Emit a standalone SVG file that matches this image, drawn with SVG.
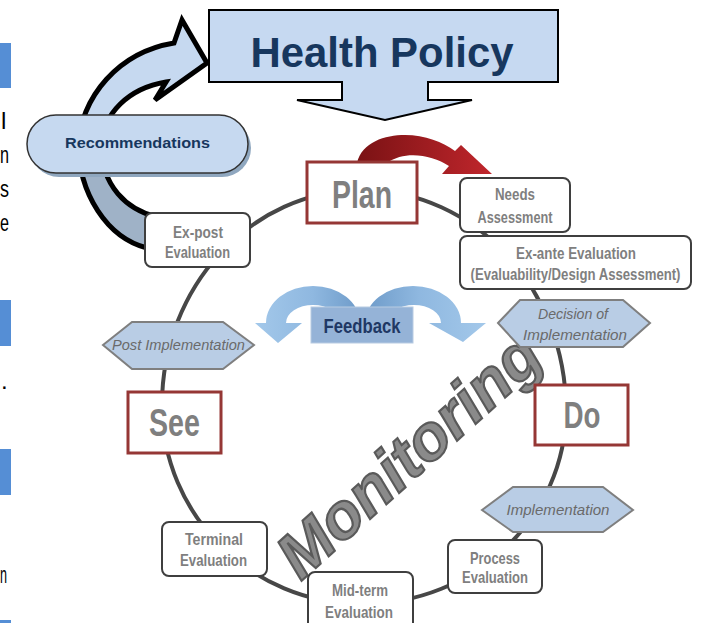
<svg xmlns="http://www.w3.org/2000/svg" width="702" height="623" viewBox="0 0 702 623">
<defs>
<linearGradient id="redg" x1="0" y1="0" x2="1" y2="0">
<stop offset="0" stop-color="#7a1214"/><stop offset="1" stop-color="#c0262c"/>
</linearGradient>
<linearGradient id="fbL" x1="1" y1="0" x2="0" y2="0">
<stop offset="0" stop-color="#6e9bc9"/><stop offset="0.45" stop-color="#8fb8e0"/><stop offset="1" stop-color="#a3c8ea"/>
</linearGradient>
<linearGradient id="fbR" x1="0" y1="0" x2="1" y2="0">
<stop offset="0" stop-color="#6e9bc9"/><stop offset="0.45" stop-color="#8fb8e0"/><stop offset="1" stop-color="#a3c8ea"/>
</linearGradient>
</defs>
<style>
.box{fill:#fff;stroke:#3f3f3f;stroke-width:2}
.phase{fill:#fff;stroke:#953735;stroke-width:3}
.hex{fill:#b9cde5;stroke:#7f7f7f;stroke-width:2}
.lbl{font-family:'Liberation Sans Narrow','Liberation Sans',Arial,sans-serif;font-weight:bold;fill:#7f7f7f;text-anchor:middle;font-size:17px}
.big{font-size:38px}
.it{font-family:'Liberation Sans Narrow','Liberation Sans',Arial,sans-serif;font-style:italic;fill:#6a6a6a;text-anchor:middle;font-size:15px}
.doc{font-family:'Liberation Sans',Arial,sans-serif;font-size:24px;fill:#000}
.bar{fill:#558ed5}
</style>
<rect width="702" height="623" fill="#fff"/>

<g id="page-edge">
<rect class="bar" x="0" y="43" width="11" height="45"/>
<rect class="bar" x="0" y="300" width="11" height="46"/>
<rect class="bar" x="0" y="449" width="11" height="46"/>
<rect class="bar" x="0" y="620" width="11" height="3"/>
<text class="doc" x="1" y="129">l</text>
<text class="doc" x="0" y="163" textLength="9" lengthAdjust="spacingAndGlyphs">n</text>
<text class="doc" x="0" y="197" textLength="9" lengthAdjust="spacingAndGlyphs">s</text>
<text class="doc" x="0" y="231" textLength="9" lengthAdjust="spacingAndGlyphs">e</text>
<text class="doc" x="1" y="389">.</text>
<text class="doc" x="0" y="583" textLength="7" lengthAdjust="spacingAndGlyphs">n</text>
</g>

<g id="connectors">
<path d="M362,190 C474.7,190 566,288.5 566,410 C566,517 474.7,604 362,604 C251.5,604 162,515 162,405 C162,286.3 251.5,190 362,190 Z" fill="none" stroke="#474747" stroke-width="4"/>
<path id="rec-arrow-lower" d="M78,140 C78,195 108,238 147,248 L157,217 C128,210 101,188 100,140 Z" fill="#9fb2c7" stroke="#000" stroke-width="5" stroke-linejoin="miter"/>
<path id="rec-arrow-upper" d="M78,150 C80,95 120,52 174,43 L182,20 L207,63 L155,100 L166,82 C130,88 102,112 100,150 Z" fill="#c6d9f0" stroke="#000" stroke-width="5" stroke-linejoin="miter"/>
<path id="red-arrow" d="M357,163 C362,142 385,135 405,135 C425,135 443,142 455,151 L461,145 L492,174 L442,174 L449,166 C432,155 405,150 387,163 Z" fill="url(#redg)"/>
<path id="fb-left" d="M360,323 A47,37 0 0 0 266,323 L255,323 L278,343 L302,323 L286,323 A27,18 0 0 1 340,323 Z" fill="url(#fbL)"/>
<path id="fb-right" d="M365,323 A48,37 0 0 1 461,323 L486,323 L463,342 L429,323 L441,323 A27,18 0 0 0 387,323 Z" fill="url(#fbR)"/>
</g>

<g id="health-policy">
<path d="M209,10 H558 V82 H428 V100 H472 L385,120 L297,100 H342 V82 H209 Z" fill="#c6d9f1" stroke="#000" stroke-width="2"/>
<text x="382" y="67" font-family="'Liberation Sans',Arial,sans-serif" font-weight="bold" font-size="42" fill="#17375e" text-anchor="middle" textLength="263" lengthAdjust="spacingAndGlyphs">Health Policy</text>
</g>

<g id="recommendations">
<rect x="30" y="119" width="221" height="58" rx="29" fill="#8fa7bf"/>
<rect x="27" y="115" width="221" height="58" rx="29" fill="#c6d9f0" stroke="#333" stroke-width="1.5"/>
<text x="137.5" y="148" font-family="'Liberation Sans',Arial,sans-serif" font-weight="bold" font-size="15" fill="#17375e" text-anchor="middle" textLength="145" lengthAdjust="spacingAndGlyphs">Recommendations</text>
</g>

<g id="monitoring">
<text transform="translate(408,454) rotate(-42)" x="0" y="23" font-family="'Liberation Sans',Arial,sans-serif" font-weight="bold" font-style="italic" font-size="64" fill="#8a8a8a" stroke="#5a5a5a" stroke-width="2.2" text-anchor="middle" textLength="330" lengthAdjust="spacingAndGlyphs">Monitoring</text>
</g>

<g id="feedback">
<rect x="311" y="307" width="102" height="36" fill="#95b3d7" stroke="#b8cbe2" stroke-width="1"/>
<text x="362" y="333" font-family="'Liberation Sans Narrow','Liberation Sans',Arial,sans-serif" font-weight="bold" font-size="21" fill="#1f3864" text-anchor="middle" textLength="77" lengthAdjust="spacingAndGlyphs">Feedback</text>
</g>

<g id="plan">
<rect class="phase" x="307" y="162" width="110" height="61"/>
<text class="lbl big" x="362" y="208" textLength="60" lengthAdjust="spacingAndGlyphs">Plan</text>
</g>

<g id="needs-assessment">
<rect class="box" x="460" y="178" width="110" height="54" rx="7"/>
<text class="lbl" x="515" y="200" textLength="40" lengthAdjust="spacingAndGlyphs">Needs</text>
<text class="lbl" x="515" y="223" textLength="75" lengthAdjust="spacingAndGlyphs">Assessment</text>
</g>

<g id="ex-ante">
<rect class="box" x="460" y="236" width="231" height="53" rx="7"/>
<text class="lbl" x="576" y="259" textLength="120" lengthAdjust="spacingAndGlyphs">Ex-ante Evaluation</text>
<text class="lbl" x="575.5" y="280" style="font-size:16px" textLength="210" lengthAdjust="spacingAndGlyphs">(Evaluability/Design Assessment)</text>
</g>

<g id="decision">
<polygon class="hex" points="498,323 520,300 623,300 650,323 623,347 520,347"/>
<text class="it" x="573" y="319" textLength="70" lengthAdjust="spacingAndGlyphs">Decision of</text>
<text class="it" x="575" y="340" textLength="104" lengthAdjust="spacingAndGlyphs">Implementation</text>
</g>

<g id="do">
<rect class="phase" x="535" y="385" width="93" height="60"/>
<text class="lbl" x="582" y="428" style="font-size:36px" textLength="37" lengthAdjust="spacingAndGlyphs">Do</text>
</g>

<g id="implementation">
<polygon class="hex" points="482,510 513,487 603,487 633,510 603,532 513,532"/>
<text class="it" x="558" y="515" textLength="103" lengthAdjust="spacingAndGlyphs">Implementation</text>
</g>

<g id="process-evaluation">
<rect class="box" x="448" y="540" width="94" height="53" rx="7"/>
<text class="lbl" x="495" y="564" textLength="50" lengthAdjust="spacingAndGlyphs">Process</text>
<text class="lbl" x="495" y="583" textLength="66" lengthAdjust="spacingAndGlyphs">Evaluation</text>
</g>

<g id="mid-term">
<rect class="box" x="308" y="572" width="105" height="58" rx="7"/>
<text class="lbl" x="360" y="596" textLength="56" lengthAdjust="spacingAndGlyphs">Mid-term</text>
<text class="lbl" x="359" y="618" textLength="68" lengthAdjust="spacingAndGlyphs">Evaluation</text>
</g>

<g id="terminal">
<rect class="box" x="162" y="522" width="105" height="54" rx="7"/>
<text class="lbl" x="214" y="545" textLength="58" lengthAdjust="spacingAndGlyphs">Terminal</text>
<text class="lbl" x="213.5" y="566" textLength="67" lengthAdjust="spacingAndGlyphs">Evaluation</text>
</g>

<g id="see">
<rect class="phase" x="128" y="392" width="93" height="61"/>
<text class="lbl big" x="174.5" y="436" textLength="51" lengthAdjust="spacingAndGlyphs">See</text>
</g>

<g id="post-implementation">
<polygon class="hex" points="103,345 132,322 223,322 254,345 223,369 132,369"/>
<text class="it" x="178.5" y="350" textLength="133" lengthAdjust="spacingAndGlyphs">Post Implementation</text>
</g>

<g id="ex-post">
<rect class="box" x="145" y="213" width="105" height="54" rx="7"/>
<text class="lbl" x="198" y="238" textLength="50" lengthAdjust="spacingAndGlyphs">Ex-post</text>
<text class="lbl" x="197.5" y="258" textLength="65" lengthAdjust="spacingAndGlyphs">Evaluation</text>
</g>
</svg>
